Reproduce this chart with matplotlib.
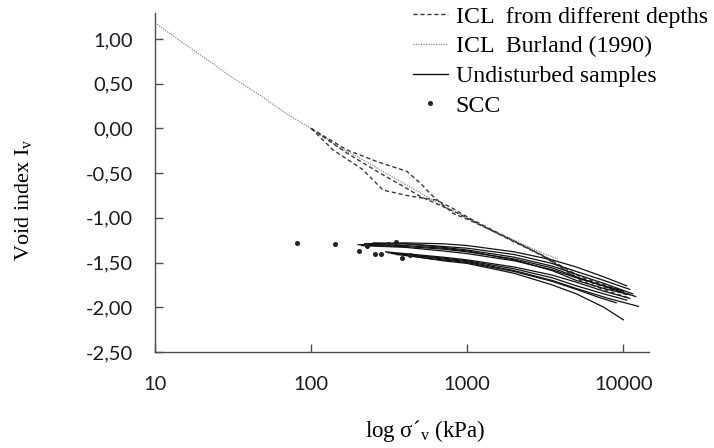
import matplotlib
matplotlib.use("Agg")
import matplotlib.pyplot as plt
from matplotlib.lines import Line2D

plt.rcParams['mathtext.fontset'] = 'custom'
plt.rcParams['mathtext.rm'] = 'Liberation Serif'

SERIF = 'Liberation Serif'
SANS = 'Lato'

# ICL Burland (1990)
icl_sigma = [10, 15, 20, 30, 50, 70, 100, 150, 200, 300, 500, 700, 1000, 1500, 2000, 3000, 3800]
icl_iv = [1.18, 0.96, 0.81, 0.59, 0.34, 0.16, 0.00, -0.21, -0.32, -0.50, -0.72, -0.87, -1.00, -1.16, -1.25, -1.39, -1.46]

# ICL from different depths
dash_sigma = [
    [100, 169, 263, 410, 499, 604, 811, 1047, 1790, 3050, 5300, 7800, 10000],
    [100, 169, 276, 400, 499, 650, 850, 1047, 1800, 3000, 5250, 7800, 10500],
    [100, 138, 214, 289, 410, 521, 631, 800, 1047, 1900, 3100, 5300, 8000, 11000],
]
dash_iv = [
    [0.00, -0.24, -0.37, -0.48, -0.61, -0.76, -0.95, -1.03, -1.22, -1.42, -1.66, -1.76, -1.82],
    [0.00, -0.275, -0.50, -0.66, -0.76, -0.85, -0.94, -1.02, -1.23, -1.42, -1.68, -1.78, -1.86],
    [0.00, -0.24, -0.46, -0.69, -0.75, -0.78, -0.80, -0.89, -1.01, -1.24, -1.43, -1.70, -1.82, -1.90],
]

# Undisturbed samples
und_sigma = [
    [220, 400, 700, 1000, 2000, 3500, 5000, 7500, 10500],
    [200, 400, 700, 1000, 2000, 3500, 5000, 7500, 11000],
    [250, 400, 700, 1000, 2000, 3500, 5000, 8000, 11500],
    [230, 400, 700, 1000, 2000, 3500, 5000, 8000, 12000],
    [210, 400, 700, 1000, 2000, 3500, 5000, 7500, 10000],
    [250, 400, 700, 1000, 2000, 3500, 5000, 7500, 11000],
    [300, 400, 700, 1000, 2000, 3500, 5000, 7500, 11000],
    [310, 400, 700, 1000, 2000, 3500, 5000, 7500, 10500],
    [330, 450, 700, 1000, 2000, 3500, 5000, 8000, 12500],
    [350, 450, 700, 1000, 2000, 3500, 5000, 7500, 10000],
    [400, 600, 800, 1000, 2000, 3500, 5000, 7000, 9000],
]
und_iv = [
    [-1.29, -1.28, -1.29, -1.31, -1.38, -1.47, -1.55, -1.66, -1.76],
    [-1.30, -1.29, -1.32, -1.34, -1.41, -1.51, -1.60, -1.70, -1.80],
    [-1.28, -1.29, -1.33, -1.36, -1.44, -1.54, -1.63, -1.75, -1.85],
    [-1.31, -1.32, -1.35, -1.38, -1.46, -1.56, -1.66, -1.78, -1.88],
    [-1.31, -1.33, -1.37, -1.40, -1.48, -1.58, -1.67, -1.76, -1.82],
    [-1.30, -1.31, -1.34, -1.37, -1.47, -1.59, -1.70, -1.79, -1.86],
    [-1.38, -1.40, -1.44, -1.47, -1.55, -1.64, -1.72, -1.82, -1.90],
    [-1.39, -1.41, -1.45, -1.48, -1.57, -1.67, -1.76, -1.85, -1.92],
    [-1.40, -1.42, -1.46, -1.49, -1.59, -1.70, -1.79, -1.90, -1.99],
    [-1.41, -1.43, -1.48, -1.51, -1.62, -1.75, -1.85, -2.00, -2.14],
    [-1.42, -1.46, -1.48, -1.50, -1.60, -1.71, -1.80, -1.89, -1.95],
]

# SCC
scc_sigma = [81, 142, 203, 227, 257, 279, 309, 349, 380, 430]
scc_iv = [-1.278, -1.293, -1.367, -1.315, -1.405, -1.405, -1.293, -1.267, -1.446, -1.416]

yticks = [1.0, 0.5, 0.0, -0.5, -1.0, -1.5, -2.0, -2.5]
ytick_labels = ['1,00', '0,50', '0,00', '-0,50', '-1,00', '-1,50', '-2,00', '-2,50']
xticks = [10, 100, 1000, 10000]
xtick_labels = ['10', '100', '1000', '10000']

fig = plt.figure(figsize=(7.14, 4.48), dpi=100)
ax = fig.add_axes([155/714, 1 - 352/448, (649 - 155)/714, (352 - 13)/448])

ax.plot(icl_sigma, icl_iv, color='#8a8a8a', lw=0.9, linestyle=(0, (1, 1)), zorder=2)
for s, v in zip(dash_sigma, dash_iv):
    ax.plot(s, v, color='#3a3a3a', lw=1.0, linestyle=(0, (3, 2)), zorder=3)
for s, v in zip(und_sigma, und_iv):
    ax.plot(s, v, color='#111111', lw=0.9, zorder=4)
ax.plot(scc_sigma, scc_iv, linestyle='none', marker='o', ms=2.6, color='#222222', zorder=5)

ax.set_xscale('log')
ax.set_xlim(10, 14600)
ax.set_ylim(-2.5, 1.29)
ax.set_xticks(xticks)
ax.set_xticklabels(xtick_labels)
ax.minorticks_off()
ax.set_yticks(yticks)
ax.set_yticklabels(ytick_labels)

for sp in ['top', 'right']:
    ax.spines[sp].set_visible(False)
for sp in ['left', 'bottom']:
    ax.spines[sp].set_color('#4d4d4d')
    ax.spines[sp].set_linewidth(1.0)

ax.tick_params(axis='both', direction='in', length=6, width=1.0, color='#4d4d4d',
               labelsize=14.5, labelcolor='#1a1a2a')
ax.tick_params(axis='y', pad=16)
ax.tick_params(axis='x', pad=17)
for lab in ax.get_xticklabels() + ax.get_yticklabels():
    lab.set_fontfamily(SANS)

fig.text(24/714, 1 - 200/448, r'Void index I$_\mathregular{v}$', rotation=90,
         ha='center', va='center', fontsize=16, fontfamily=SERIF)
fig.text(425/714, 1 - 431/448, r'log σ´$_\mathregular{v}$ (kPa)',
         ha='center', va='center', fontsize=16.5, fontfamily=SERIF)

handles = [
    Line2D([], [], color='#3a3a3a', lw=1.0, linestyle=(0, (3, 2))),
    Line2D([], [], color='#8a8a8a', lw=0.9, linestyle=(0, (1, 1))),
    Line2D([], [], color='#111111', lw=1.0),
    Line2D([], [], linestyle='none', marker='o', ms=2.6, color='#222222'),
]
labels = ['ICL  from different depths', 'ICL  Burland (1990)', 'Undisturbed samples', 'SCC']
leg = fig.legend(handles, labels, loc='upper left', bbox_to_anchor=(413/714, 1 - 6/448),
                 frameon=False, prop={'family': SERIF, 'size': 17.2}, handlelength=1.45,
                 handletextpad=0.33, labelspacing=0.33, borderpad=0, borderaxespad=0)

fig.savefig('out.png', dpi=100)
